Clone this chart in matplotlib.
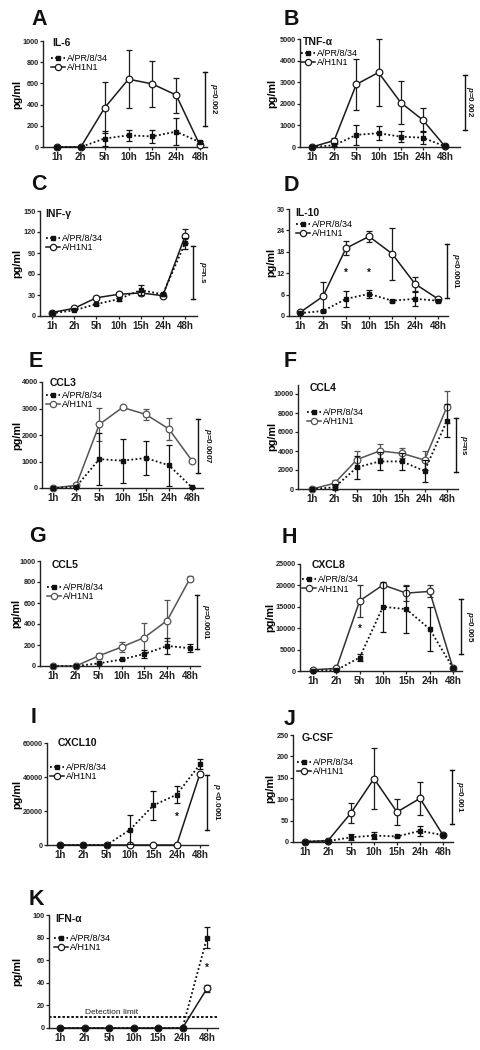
import matplotlib
matplotlib.use('Agg')
import matplotlib.pyplot as plt
from matplotlib.lines import Line2D

plt.rcParams['font.family'] = ['Liberation Sans', 'DejaVu Sans']
plt.rcParams['mathtext.fontset'] = 'custom'
plt.rcParams['mathtext.it'] = 'Liberation Sans:italic:bold'
plt.rcParams['mathtext.rm'] = 'Liberation Sans:bold'

times = ['1h', '2h', '5h', '10h', '15h', '24h', '48h']
label_pr8 = 'A/PR/8/34'
label_h1 = 'A/H1N1'

# ---------------- data ----------------
il6_pr8 = [0, 0, 80, 110, 100, 145, 45]
il6_pr8_err = [0, 0, 75, 50, 60, 125, 10]
il6_h1 = [0, 0, 370, 640, 595, 490, 15]
il6_h1_err = [0, 0, 240, 275, 220, 165, 0]

tnf_pr8 = [0, 80, 560, 640, 480, 430, 30]
tnf_pr8_err = [0, 50, 470, 310, 250, 300, 0]
tnf_h1 = [0, 300, 2900, 3450, 2060, 1250, 30]
tnf_h1_err = [0, 100, 1170, 1530, 990, 545, 0]

ifng_pr8 = [4, 8, 17, 24, 37, 31, 104]
ifng_pr8_err = [0, 0, 1, 2, 7, 2, 8]
ifng_h1 = [5, 11, 26, 31, 33, 29, 114]
ifng_h1_err = [0, 1, 2, 3, 3, 2, 10]

il10_pr8 = [0.8, 1.4, 4.8, 6.2, 4.3, 4.8, 4.3]
il10_pr8_err = [0, 0.3, 2.3, 1.2, 0.3, 2.0, 0.3]
il10_h1 = [1.0, 5.5, 19, 22.3, 17.5, 9, 4.8]
il10_h1_err = [0.3, 4, 2, 1.5, 7.3, 2, 0.3]

ccl3_pr8 = [0, 50, 1090, 1030, 1130, 860, 20]
ccl3_pr8_err = [0, 30, 970, 830, 650, 770, 0]
ccl3_h1 = [0, 100, 2400, 3040, 2780, 2230, 1030]
ccl3_h1_err = [0, 50, 620, 40, 220, 420, 40]

ccl4_pr8 = [0, 175, 2280, 2900, 2900, 1900, 7200]
ccl4_pr8_err = [0, 300, 1230, 950, 880, 1130, 1760]
ccl4_h1 = [0, 600, 3100, 4000, 3750, 3050, 8650]
ccl4_h1_err = [0, 400, 850, 700, 530, 1000, 1650]

ccl5_pr8 = [0, 0, 25, 62, 115, 191, 169]
ccl5_pr8_err = [0, 0, 5, 8, 40, 80, 40]
ccl5_h1 = [0, 0, 96, 180, 271, 433, 833]
ccl5_h1_err = [0, 0, 30, 45, 143, 198, 28]

cxcl8_pr8 = [100, 200, 3150, 15000, 14450, 9800, 700]
cxcl8_pr8_err = [0, 0, 900, 5800, 5500, 5100, 0]
cxcl8_h1 = [300, 600, 16400, 20100, 18200, 18600, 650]
cxcl8_h1_err = [0, 0, 3700, 0, 1800, 1400, 0]

cxcl10_pr8 = [0, 0, 0, 9000, 23300, 29600, 47500]
cxcl10_pr8_err = [0, 0, 0, 8700, 8600, 4900, 3000]
cxcl10_h1 = [0, 0, 0, 0, 0, 0, 42000]
cxcl10_h1_err = [0, 0, 0, 0, 0, 0, 0]

gcsf_pr8 = [1, 2, 11, 15, 13, 26, 16]
gcsf_pr8_err = [0, 0, 7, 9, 2, 12, 0]
gcsf_h1 = [1, 3, 68, 148, 70, 102, 16]
gcsf_h1_err = [0, 0, 24, 71, 30, 38, 0]

ifna_pr8 = [0, 0, 0, 0, 0, 0, 80]
ifna_pr8_err = [0, 0, 0, 0, 0, 0, 9]
ifna_h1 = [0, 0, 0, 0, 0, 0, 35]
ifna_h1_err = [0, 0, 0, 0, 0, 0, 3]
detection_limit = 10

panels = [
    dict(letter='A', name='IL-6', pr8=il6_pr8, pr8e=il6_pr8_err, h1=il6_h1, h1e=il6_h1_err,
         ymax=1000, yticks=[0, 200, 400, 600, 800, 1000], p=r'$p$=0.002', br=[200, 705], stars=[]),
    dict(letter='B', name='TNF-α', pr8=tnf_pr8, pr8e=tnf_pr8_err, h1=tnf_h1, h1e=tnf_h1_err,
         ymax=5000, yticks=[0, 1000, 2000, 3000, 4000, 5000], p=r'$p$=0.002', br=[800, 3350], stars=[]),
    dict(letter='C', name='INF-γ', pr8=ifng_pr8, pr8e=ifng_pr8_err, h1=ifng_h1, h1e=ifng_h1_err,
         ymax=150, yticks=[0, 30, 60, 90, 120, 150], p=r'$p$=n.s', br=[25, 100], stars=[]),
    dict(letter='D', name='IL-10', pr8=il10_pr8, pr8e=il10_pr8_err, h1=il10_h1, h1e=il10_h1_err,
         ymax=30, yticks=[0, 6, 12, 18, 24, 30], p=r'$p$<0.0001', br=[5, 20.2], stars=[(2, 12), (3, 12)]),
    dict(letter='E', name='CCL3', pr8=ccl3_pr8, pr8e=ccl3_pr8_err, h1=ccl3_h1, h1e=ccl3_h1_err,
         ymax=4000, yticks=[0, 1000, 2000, 3000, 4000], p=r'$p$=0.0007', br=[570, 2620], stars=[]),
    dict(letter='F', name='CCL4', pr8=ccl4_pr8, pr8e=ccl4_pr8_err, h1=ccl4_h1, h1e=ccl4_h1_err,
         ymax=11000, yticks=[0, 2000, 4000, 6000, 8000, 10000], p=r'$p$=ns', br=[1800, 7450], stars=[]),
    dict(letter='G', name='CCL5', pr8=ccl5_pr8, pr8e=ccl5_pr8_err, h1=ccl5_h1, h1e=ccl5_h1_err,
         ymax=1000, yticks=[0, 200, 400, 600, 800, 1000], p=r'$p$=0.0001', br=[160, 678], stars=[]),
    dict(letter='H', name='CXCL8', pr8=cxcl8_pr8, pr8e=cxcl8_pr8_err, h1=cxcl8_h1, h1e=cxcl8_h1_err,
         ymax=25000, yticks=[0, 5000, 10000, 15000, 20000, 25000], p=r'$p$=0.005', br=[3950, 16750],
         stars=[(2, 9800)]),
    dict(letter='I', name='CXCL10', pr8=cxcl10_pr8, pr8e=cxcl10_pr8_err, h1=cxcl10_h1, h1e=cxcl10_h1_err,
         ymax=60000, yticks=[0, 20000, 40000, 60000], p=r'$p$ <0.0001', br=[9000, 41000], stars=[(5, 16600)]),
    dict(letter='J', name='G-CSF', pr8=gcsf_pr8, pr8e=gcsf_pr8_err, h1=gcsf_h1, h1e=gcsf_h1_err,
         ymax=250, yticks=[0, 50, 100, 150, 200, 250], p=r'$p$=0.001', br=[41, 169], stars=[]),
    dict(letter='K', name='IFN-α', pr8=ifna_pr8, pr8e=ifna_pr8_err, h1=ifna_h1, h1e=ifna_h1_err,
         ymax=100, yticks=[0, 20, 40, 60, 80, 100], p=None, br=None, stars=[(6, 53)]),
]

# ---------------- layout (pixels) ----------------
# left, right, x of 1h, x of 48h, y of ymax, y of 0, ylabel x, letter (x, baseline),
# legend title (x, y), handle x, entry ys, bracket x, p-text x, h1 colour
layout = {
    'A': (43, 207, 57, 200, 41, 147, 17, (31, 25), (52, 43), 51, (58, 68), 205, 213, '#1a1a1a'),
    'B': (300, 460, 312, 445, 39, 147, 272, (284, 25), (303, 42), 301, (53, 63), 465, 470, '#1a1a1a'),
    'C': (40, 197, 52, 185, 211, 316, 17, (31, 190), (45, 214), 46, (238, 248), 193, 202, '#1a1a1a'),
    'D': (289, 448, 300, 438, 209, 316, 271, (284, 191), (295, 213), 296, (224, 234), 447, 456, '#1a1a1a'),
    'E': (42, 203, 53, 192, 382, 488, 17, (29, 367), (50, 383), 46, (395, 405), 198, 208, '#555555'),
    'F': (298, 458, 312, 447, 384.5, 489, 272, (284, 367), (310, 388), 307, (412, 422), 456, 463, '#555555'),
    'G': (40, 200, 53, 190, 561, 666, 16, (29, 542), (52, 565), 47, (587, 597), 197, 206, '#555555'),
    'H': (300, 462, 313, 453, 564, 671, 270, (282, 543), (312, 565), 302, (579, 590), 461, 470, '#333333'),
    'I': (47, 208, 60, 200, 743, 845, 17, (31, 723), (58, 743), 50, (767, 777), 207, 216, '#1a1a1a'),
    'J': (293, 453, 305, 443, 735, 842, 270, (284, 725), (302, 738), 297, (762, 772), 452, 460, '#1a1a1a'),
    'K': (49, 218, 60, 207, 915, 1028, 17, (29, 905), (55, 919), 54, (938, 948), None, None, '#1a1a1a'),
}

W, H = 481, 1050
fig = plt.figure(figsize=(W / 100, H / 100), dpi=100)
fig.patch.set_facecolor('white')

xs = list(range(len(times)))
for pnl in panels:
    (left, right, x1, x48, ytop, ybot, ylx, (lx, ly), (tx, ty), hx, (e1, e2),
     bx, px, h1c) = layout[pnl['letter']]
    step = (x48 - x1) / 6.0
    xlo = (left - x1) / step
    xhi = 6 + (right - x48) / step
    ax = fig.add_axes([left / W, 1 - ybot / H, (right - left) / W, (ybot - ytop) / H])
    ax.set_xlim(xlo, xhi)
    ax.set_ylim(0, pnl['ymax'])
    for s in ['top', 'right']:
        ax.spines[s].set_visible(False)
    for s in ['left', 'bottom']:
        ax.spines[s].set_linewidth(1.0)
        ax.spines[s].set_color('#222222')
    ax.set_xticks(xs)
    ax.set_xticklabels(times, fontsize=7, fontweight='bold')
    ax.set_yticks(pnl['yticks'])
    ax.set_yticklabels([str(v) for v in pnl['yticks']], fontsize=5.2, fontweight='bold')
    ax.tick_params(axis='y', length=2.5, width=0.9, pad=0.6, colors='#222222')
    ax.tick_params(axis='x', length=2.0, width=0.9, pad=1.5, colors='#222222')
    ax.set_ylabel('pg/ml', fontsize=7.8, fontweight='bold', va='center')
    ax.yaxis.set_label_coords((ylx - left) / (right - left), 0.5)

    if pnl['letter'] == 'K':
        ax.axhline(detection_limit, color='#111111', lw=1.4, ls=(0, (1.3, 1.0)), zorder=1)
        ax.text(2.1, detection_limit + 0.8, 'Detection limit', fontsize=6, ha='center',
                va='bottom', color='#222222')

    ax.errorbar(xs, pnl['h1'], yerr=pnl['h1e'], fmt='o', ls='-', color=h1c, lw=1.1,
                ms=4.8, mfc='white', mec=h1c, mew=0.9, ecolor=h1c, elinewidth=0.9,
                capsize=2.2, capthick=0.9, clip_on=False, zorder=3)
    ax.errorbar(xs, pnl['pr8'], yerr=pnl['pr8e'], fmt='s', ls=(0, (1.0, 1.3)), color='#111111',
                lw=1.3, ms=3.0, mfc='#111111', mec='#111111', ecolor='#111111',
                elinewidth=0.9, capsize=2.2, capthick=0.9, clip_on=False, zorder=4)

    for (sx, sy) in pnl['stars']:
        ax.text(sx, sy, '*', fontsize=7, fontweight='bold', ha='center', va='center',
                color='#111111', zorder=5)

    if pnl['br'] is not None:
        xb = 6 + (bx - x48) / step
        xt = 6 + (px - x48) / step
        cw = 1.6 / step
        lo, hi = pnl['br']
        ax.plot([xb, xb], [lo, hi], color='#111111', lw=1.0, clip_on=False)
        ax.plot([xb - cw, xb + cw], [lo, lo], color='#111111', lw=1.0, clip_on=False)
        ax.plot([xb - cw, xb + cw], [hi, hi], color='#111111', lw=1.0, clip_on=False)
        ax.text(xt, (lo + hi) / 2, pnl['p'], rotation=270, fontsize=5.8, fontweight='bold',
                ha='center', va='center', color='#111111', clip_on=False)

    handles = [
        Line2D([], [], color='#111111', ls=(0, (1.0, 1.3)), lw=1.3, marker='s', ms=3.0,
               mfc='#111111', mec='#111111'),
        Line2D([], [], color=h1c, ls='-', lw=1.1, marker='o', ms=4.5, mfc='white',
               mec=h1c, mew=0.9),
    ]
    ax.legend(handles, [label_pr8, label_h1], loc='center left',
              bbox_to_anchor=(hx / W, 1 - (e1 + e2) / 2 / H), bbox_transform=fig.transFigure,
              frameon=False, fontsize=6.5, labelspacing=0.0, handlelength=1.5,
              handletextpad=0.3, borderpad=0, borderaxespad=0, handleheight=0.6)
    fig.text(tx / W, 1 - ty / H, pnl['name'], fontsize=7.5, fontweight='bold',
             ha='left', va='center', color='#111111')
    fig.text(lx / W, 1 - ly / H, pnl['letter'], fontsize=15.5, fontweight='bold',
             ha='left', va='baseline', color='#111111')

fig.savefig('out.png', dpi=100, facecolor='white')
